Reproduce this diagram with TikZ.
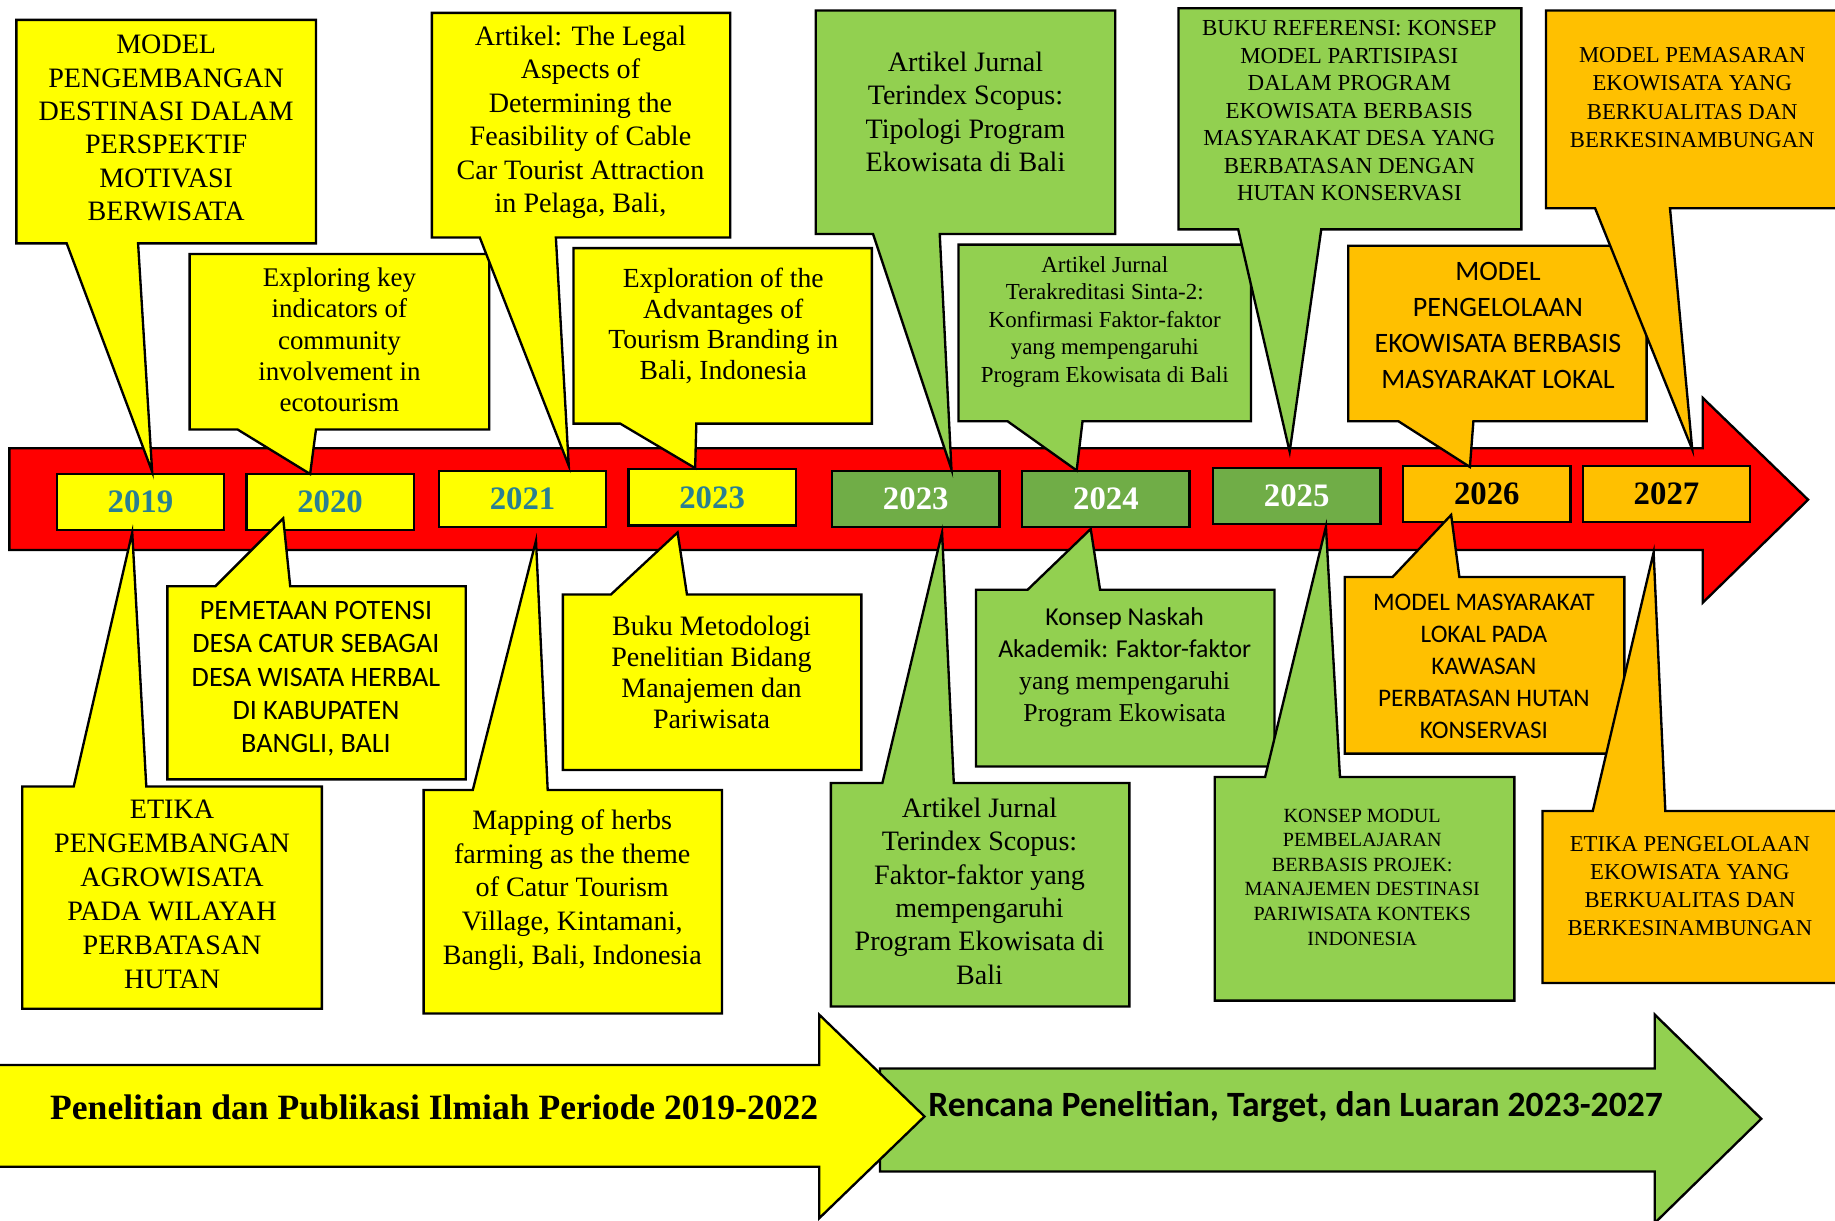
\documentclass[tikz,border=0pt]{standalone}
\usepackage{fontspec}
\setmainfont{Liberation Serif}
\newfontfamily\calibri{Carlito}
\definecolor{cYellow}{HTML}{FFFF00}
\definecolor{cGreen}{HTML}{92D050}
\definecolor{cGreenDark}{HTML}{70AD47}
\definecolor{cOrange}{HTML}{FFC000}
\definecolor{cRed}{HTML}{FF0000}
\definecolor{cTeal}{HTML}{2A7F92}
\newcommand\fsz[2]{\fontsize{#1}{#2}\selectfont}
% callout with tail pointing down: style, x1,y1,x2,y2, tail-left, tail-right, tip
\newcommand\calloutdown[8]{\draw[#1] (#2,#3) -- (#4,#3) -- (#4,#5) -- (#7,#5) -- #8 -- (#6,#5) -- (#2,#5) -- cycle;}
% callout with tail pointing up
\newcommand\calloutup[8]{\draw[#1] (#2,#3) -- (#6,#3) -- #8 -- (#7,#3) -- (#4,#3) -- (#4,#5) -- (#2,#5) -- cycle;}
\tikzset{
  shapebox/.style={draw=black, line width=1pt, line join=miter},
  ylw/.style={shapebox, fill=cYellow},
  grn/.style={shapebox, fill=cGreen},
  org/.style={shapebox, fill=cOrange},
  txt/.style={align=center, inner sep=0pt, text=black},
  yearbox/.style={draw=black, line width=1pt, minimum width=71.5pt, minimum height=24pt, inner sep=0pt, font=\fsz{14}{16}\bfseries},
}
\begin{document}
\begin{tikzpicture}[x=0.5pt,y=-0.5pt]
\clip (0,0) rectangle (1568,1043);
\fill[white] (0,0) rectangle (1568,1043);

% main red timeline arrow
\draw[shapebox, fill=cRed] (8,383) -- (1455,383) -- (1455,340) -- (1545,427) -- (1455,515) -- (1455,470) -- (8,470) -- cycle;

% year boxes
\node[yearbox, fill=cYellow, text=cTeal] (y2019) at (120,429) {2019};
\node[yearbox, fill=cYellow, text=cTeal] (y2020) at (282,429) {2020};
\node[yearbox, fill=cYellow, text=cTeal] (y2021) at (446.5,426.5) {2021};
\node[yearbox, fill=cYellow, text=cTeal] (y2023a) at (608.5,425) {2023};
\node[yearbox, fill=cGreenDark, text=white] (y2023b) at (782.5,426.5) {2023};
\node[yearbox, fill=cGreenDark, text=white] (y2024) at (945,426.5) {2024};
\node[yearbox, fill=cGreenDark, text=white] (y2025) at (1108,424) {2025};
\node[yearbox, fill=cOrange, text=black] (y2026) at (1270.5,422) {2026};
\node[yearbox, fill=cOrange, text=black] (y2027) at (1424,422) {2027};

% inner callouts (closer to the timeline)
\calloutdown{ylw}{162}{217}{418}{367}{203}{270}{(265,405)}
\calloutdown{ylw}{490}{212}{745}{362}{530}{595}{(594,400)}
\calloutdown{grn}{819}{209}{1069}{360}{861}{925}{(920,402)}
\calloutdown{org}{1152}{210}{1407}{360}{1195}{1259}{(1256,399)}
\calloutup{ylw}{143}{501}{398}{666}{184}{248}{(242,443)}
\calloutup{ylw}{481}{508}{736}{658}{522}{587}{(579,455)}
\calloutup{grn}{834}{504}{1089}{655}{878}{940}{(932,452)}
\calloutup{org}{1149}{493}{1388}{644}{1190}{1247}{(1240,440)}

% outer callouts
\calloutdown{ylw}{14}{17}{270}{208}{57}{118}{(130,403)}
\calloutdown{ylw}{369}{11}{624}{203}{410}{475}{(486,398)}
\calloutdown{grn}{697}{9}{953}{200}{746}{803}{(813,401)}
\calloutdown{grn}{1007}{7}{1300}{196}{1058}{1129}{(1102,386)}
\calloutdown{org}{1321}{9}{1580}{178}{1363}{1427}{(1446,384)}
\calloutup{ylw}{19}{672}{275}{862}{63}{125}{(113,455)}
\calloutup{ylw}{362}{675}{617}{866}{404}{468}{(458,462)}
\calloutup{grn}{710}{669}{965}{860}{754}{815}{(805,455)}
\calloutup{grn}{1038}{664}{1294}{855}{1081}{1145}{(1133,450)}
\calloutup{org}{1318}{693}{1580}{840}{1361}{1423}{(1413,472)}

% callout texts
\node[txt, font=\fsz{12}{14.3}] (t1) at (142,109.5) {MODEL\\PENGEMBANGAN\\DESTINASI DALAM\\PERSPEKTIF\\MOTIVASI\\BERWISATA};
\node[txt, font=\fsz{11.5}{13.4}] (t2) at (290,290.5) {Exploring key\\indicators of\\community\\involvement in\\ecotourism};
\node[txt, font=\fsz{12}{14.3}] (t3) at (496,104.5) {Artikel: The Legal\\Aspects of\\Determining the\\Feasibility of Cable\\Car Tourist Attraction\\in Pelaga, Bali,};
\node[txt, font=\fsz{11.8}{13.2}] (t4) at (618,278.5) {Exploration of the\\Advantages of\\Tourism Branding in\\Bali, Indonesia};
\node[txt, font=\fsz{12}{14.3}] (t5) at (825,95.5) {Artikel Jurnal\\Terindex Scopus:\\Tipologi Program\\Ekowisata di Bali};
\node[txt, font=\fsz{9.8}{11.75}] (t6) at (944,275) {Artikel Jurnal\\Terakreditasi Sinta-2:\\Konfirmasi Faktor-faktor\\yang mempengaruhi\\Program Ekowisata di Bali};
\node[txt, font=\fsz{9.8}{11.75}] (t7) at (1153,94.5) {BUKU REFERENSI: KONSEP\\MODEL PARTISIPASI\\DALAM PROGRAM\\EKOWISATA BERBASIS\\MASYARAKAT DESA YANG\\BERBATASAN DENGAN\\HUTAN KONSERVASI};
\node[txt, font=\calibri\fsz{12}{15.3}] (t8) at (1280,278) {MODEL\\PENGELOLAAN\\EKOWISATA BERBASIS\\MASYARAKAT LOKAL};
\node[txt, font=\fsz{9.7}{12.1}] (t9) at (1446,83.5) {MODEL PEMASARAN\\EKOWISATA YANG\\BERKUALITAS DAN\\BERKESINAMBUNGAN};
\node[txt, font=\calibri\fsz{12}{14.25}] (t10) at (270,580) {PEMETAAN POTENSI\\DESA CATUR SEBAGAI\\DESA WISATA HERBAL\\DI KABUPATEN\\BANGLI, BALI};
\node[txt, font=\fsz{12}{14.5}] (t11) at (147,764.5) {ETIKA\\PENGEMBANGAN\\AGROWISATA\\PADA WILAYAH\\PERBATASAN\\HUTAN};
\node[txt, font=\fsz{12}{14.4}] (t12) at (489,760.5) {Mapping of herbs\\farming as the theme\\of Catur Tourism\\Village, Kintamani,\\Bangli, Bali, Indonesia};
\node[txt, font=\fsz{12}{13.2}] (t13) at (608,574.5) {Buku Metodologi\\Penelitian Bidang\\Manajemen dan\\Pariwisata};
\node[txt, font=\fsz{12}{14.3}] (t14) at (837,761.5) {Artikel Jurnal\\Terindex Scopus:\\Faktor-faktor yang\\mempengaruhi\\Program Ekowisata di\\Bali};
\node[txt, font=\fsz{11}{13.65}] (t15) at (961,570) {{\calibri Konsep Naskah}\\{\calibri Akademik: Faktor-faktor}\\yang mempengaruhi\\Program Ekowisata};
\node[txt, font=\fsz{8.6}{10.5}] (t16) at (1164,749.5) {KONSEP MODUL\\PEMBELAJARAN\\BERBASIS PROJEK:\\MANAJEMEN DESTINASI\\PARIWISATA KONTEKS\\INDONESIA};
\node[txt, font=\calibri\fsz{10.8}{13.6}] (t17) at (1268,569.5) {MODEL MASYARAKAT\\LOKAL PADA\\KAWASAN\\PERBATASAN HUTAN\\KONSERVASI};
\node[txt, font=\fsz{9.7}{12}] (t18) at (1444,757) {ETIKA PENGELOLAAN\\EKOWISATA YANG\\BERKUALITAS DAN\\BERKESINAMBUNGAN};

% bottom period arrows
\draw[shapebox, fill=cGreen] (752,913) -- (1414,913) -- (1414,867) -- (1505,956) -- (1414,1045) -- (1414,1001) -- (752,1001) -- cycle;
\draw[shapebox, fill=cYellow] (-5,910) -- (700,910) -- (700,867) -- (790,954) -- (700,1041) -- (700,997) -- (-5,997) -- cycle;
\node[txt, font=\fsz{15.2}{18}\bfseries] (p1) at (371,946) {Penelitian dan Publikasi Ilmiah Periode 2019-2022};
\node[txt, font=\calibri\fsz{15.2}{18}\bfseries] (p2) at (1107,946) {Rencana Penelitian, Target, dan Luaran 2023-2027};
\end{tikzpicture}
\end{document}
